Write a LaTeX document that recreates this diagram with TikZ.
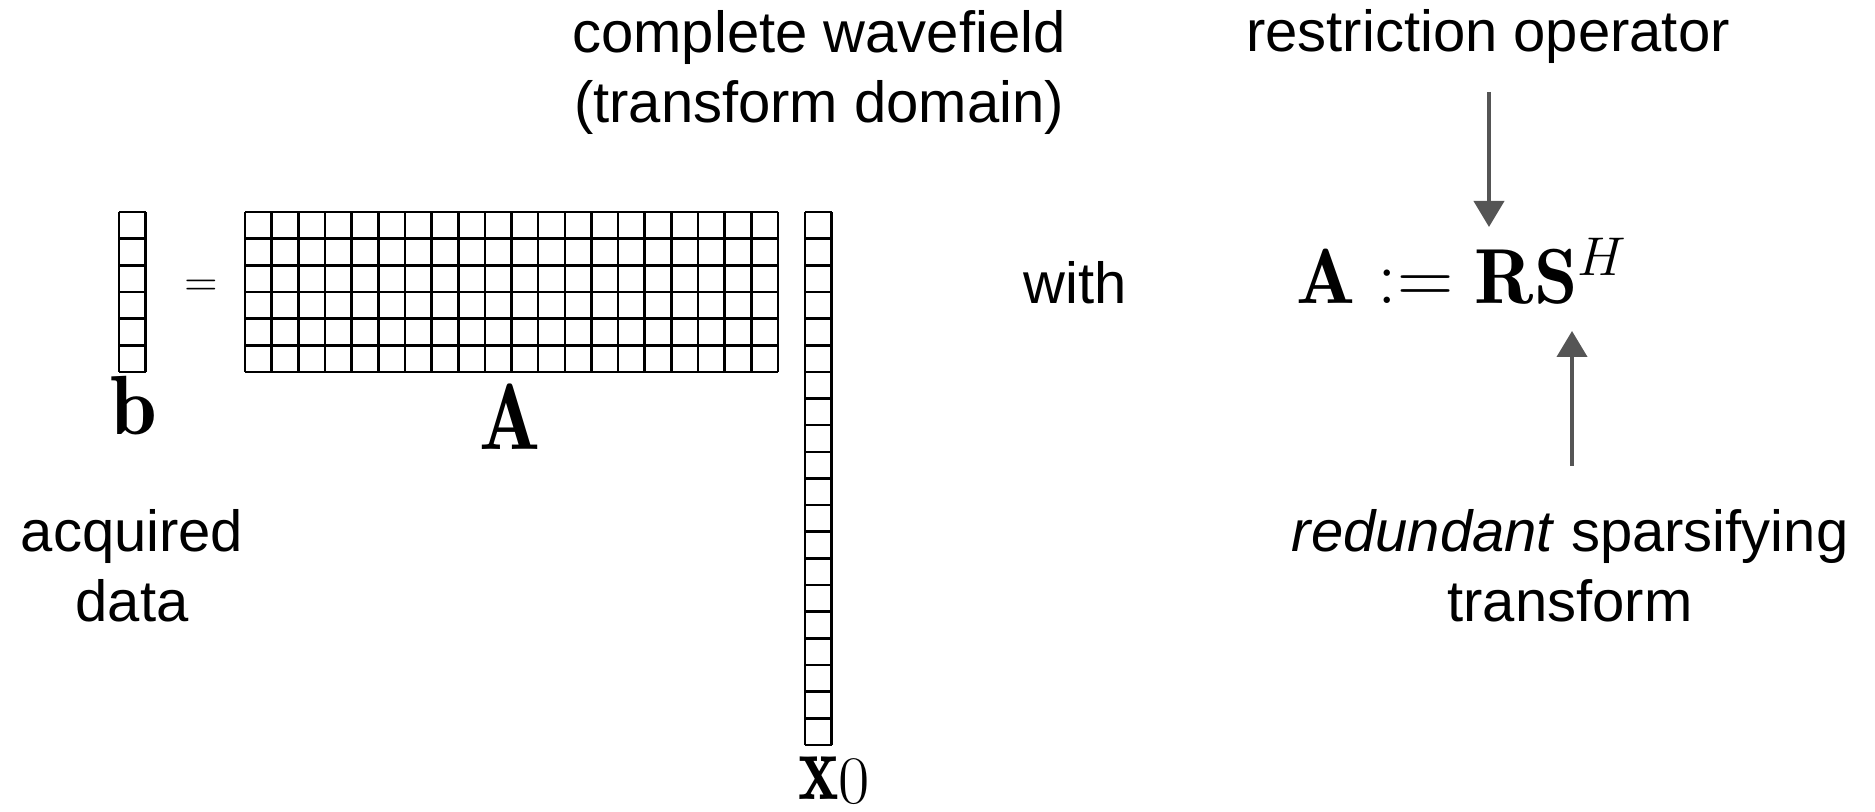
\RequirePackage{fix-cm}
\documentclass[tikz,border=0pt]{standalone}
\usepackage{fontspec}
\usepackage{graphicx}
\usetikzlibrary{arrows.meta}
\newfontfamily\arial{Liberation Sans}
\definecolor{arrowgray}{RGB}{85,85,85}

\begin{document}
\begin{tikzpicture}[x=0.5pt,y=0.5pt,
    cell/.style={line width=1.3pt},
    txt/.style={font=\arial\fontsize{29}{35}\selectfont, align=center, inner sep=0pt},
    lbl/.style={font=\fontsize{42}{44}\selectfont, inner sep=0pt},
    arr/.style={arrowgray, line width=2pt, -{Triangle[width=15pt,length=13pt]}}]
  \useasboundingbox (0,0) rectangle (1875,812);

  % b = A x0, drawn as cell grids
  \draw[cell,shift={(119,440)}] (0,0) grid[step=13.325pt] (26.7,160);
  \draw[cell,shift={(245,440)}] (0,0) grid[step=13.325pt] (533.1,160);
  \draw[cell,shift={(805,67)}] (0,0) grid[step=13.325pt] (26.7,533.1);
  \node[font=\fontsize{23}{25}\selectfont, inner sep=0pt] (eqsign) at (201,524) {$=$};

  % labels under the grids
  \node[lbl, anchor=base] (bl) at (134,377) {$\mathbf{b}$};
  \node[font=\fontsize{47}{49}\selectfont, inner sep=0pt, anchor=base] (Al) at (510,362)
    {\scalebox{0.86}[1]{$\mathbf{A}$}};
  \node[font=\fontsize{48}{50}\selectfont, inner sep=0pt, anchor=base west] (xl) at (798,12)
    {$\scalebox{0.8}[1]{$\mathbf{x}$}\raisebox{-2pt}{\fontsize{34}{35}\selectfont$0$}$};

  \node[txt] (acq) at (132,246) {acquired\\data};
  \node[txt] (cw) at (819,739) {complete wavefield\\(transform domain)};

  % definition of A
  \node[txt, anchor=base] (with) at (1075,508) {with};
  \node[font=\fontsize{39}{44}\selectfont, inner sep=0pt, anchor=base] (eqA) at (1462,508)
    {$\mathbf{A} := \mathbf{R}\mathbf{S}^H$};
  \node[txt, anchor=base] (restr) at (1488,760) {restriction operator};
  \node[txt] (red) at (1570,246) {\textit{redundant} sparsifying\\transform};

  \coordinate (rtail) at (1489,720);
  \coordinate (rtip) at (1489,585);
  \coordinate (stail) at (1572,346);
  \coordinate (stip) at (1572,481);
  \draw[arr] (rtail) -- (rtip);
  \draw[arr] (stail) -- (stip);
\end{tikzpicture}
\end{document}
